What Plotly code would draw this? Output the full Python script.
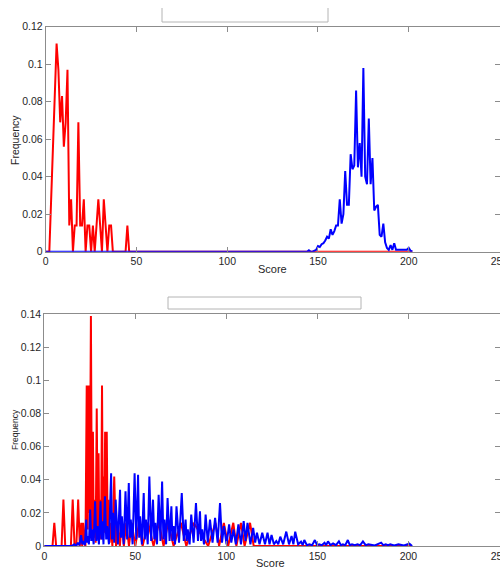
import plotly.graph_objects as go

W, H = 500, 567

# --- top panel: integer scores ---
red_top_score = list(range(0, 47)) + [202]
red_top_freq = [0, 0, 0, 0.028, 0.056, 0.083, 0.111, 0.097, 0.069, 0.083,
                0.056, 0.069, 0.097, 0.014, 0.028, 0, 0.014, 0.014, 0.069, 0.014,
                0.014, 0.028, 0, 0.014, 0.014, 0, 0.014, 0, 0.014, 0.028,
                0.014, 0, 0.028, 0.014, 0, 0.014, 0.014, 0, 0, 0,
                0, 0, 0, 0, 0, 0.014, 0, 0]

blue_top_score = [0] + list(range(144, 203))
blue_top_freq = [0, 0, 0.0008, 0, 0, 0.0005, 0.001, 0.003, 0.0025, 0.004, 0.0045,
                 0.006, 0.008, 0.007, 0.012, 0.009, 0.011, 0.014, 0.014, 0.028, 0.015,
                 0.02, 0.043, 0.025, 0.025, 0.052, 0.044, 0.046, 0.086, 0.045, 0.058,
                 0.04, 0.098, 0.04, 0.036, 0.071, 0.036, 0.05, 0.022, 0.024, 0.025,
                 0.009, 0.008, 0.015, 0.005, 0.002, 0.001, 0.0035, 0.001, 0.0045, 0.001,
                 0.001, 0.001, 0.001, 0.001, 0.001, 0.001, 0.002, 0.0005, 0]

# --- bottom panel: peaks and troughs ---
red_bot_score = [0, 4.5, 5.5, 6.5, 9.5, 10.5, 11.5, 14.6, 15.6, 16.6, 17.6, 18.6, 19.5,
                 20.3, 20.8, 21.3, 22.0, 22.6, 23.3, 23.85, 24.4, 25.0, 25.6, 26.15,
                 26.7, 27.15, 27.6, 28.2, 28.8, 29.3, 29.8, 30.2, 30.7, 31.2, 31.7,
                 32.15, 32.6, 33.0, 33.4, 33.85, 34.3, 34.8, 35.3, 35.9, 36.5, 37.4,
                 38.4, 39.4, 40.5, 41.5, 42.5, 43.7, 45, 46.5, 48, 50, 52, 54, 57, 60,
                 63, 65.5, 68, 71, 75, 78, 82, 90, 94, 96, 98.6, 101, 103.8, 105.5,
                 108, 110, 113, 115, 202]
red_bot_freq = [0, 0, 0.014, 0, 0, 0.028, 0, 0, 0.028, 0, 0, 0.028, 0,
                0.014, 0, 0.014, 0.002, 0, 0.097, 0.01, 0.097, 0.02, 0.139, 0.01,
                0.069, 0.005, 0.028, 0.002, 0.083, 0.01, 0.056, 0.005, 0.028, 0.004, 0.097,
                0.01, 0.042, 0.008, 0.069, 0.01, 0.069, 0.005, 0.028, 0.002, 0.014, 0,
                0.042, 0, 0.014, 0, 0.014, 0, 0.014, 0, 0.014, 0, 0.014, 0, 0.014, 0,
                0.014, 0, 0.014, 0, 0.014, 0, 0.014, 0, 0.014, 0, 0.014, 0, 0.014, 0,
                0.014, 0, 0.014, 0, 0]

blue_bot_score = [0, 15, 16.5, 17.5, 18.4, 19.3, 20.2, 20.9, 21.5, 22.3, 23.0, 23.4,
                  23.8, 24.5, 25.2, 25.8, 26.3, 27.1, 27.9, 28.6, 29.2, 30.0, 30.9, 31.4,
                  31.8, 32.5, 33.3, 34.0, 34.5, 35.5, 36.7, 37.2, 37.7, 38.4, 39.2, 40.4,
                  41.6, 42.1, 42.6, 43.6, 44.6, 45.5, 46.4, 47.0, 47.5, 48.5, 49.6, 50.5,
                  51.5, 52.1, 52.6, 53.6, 54.6, 55.2, 55.8, 56.8, 57.7, 58.7, 59.7, 60.4,
                  61.0, 61.9, 62.8, 63.8, 64.7, 65.4, 66.0, 66.9, 67.7, 68.8, 69.8, 70.4,
                  71.0, 71.8, 72.6, 74.0, 75.5, 76.6, 77.6, 78.2, 78.8, 79.8, 80.7, 82.0,
                  83.3, 84.4, 85.5, 86.1, 86.7, 87.7, 88.6, 89.8, 91.0, 92.4, 93.8, 95.2,
                  96.5, 97.6, 98.7, 100.1, 101.5, 102.7, 103.9, 105.2, 106.6, 108.0, 109.5,
                  110.5, 111.6, 113.2, 114.7, 115.8, 116.8, 118.2, 119.7, 121.2, 122.6,
                  123.7, 124.8, 126.1, 127.4, 128.5, 129.6, 131.2, 132.9, 134.4, 135.8,
                  136.8, 137.8, 139.4, 141.0, 141.9, 142.8, 144.2, 145.6, 147.1, 148.6,
                  149.8, 151.0, 152.4, 153.9, 154.8, 155.8, 157.2, 158.6, 160.2, 161.8,
                  162.9, 164.0, 165.3, 166.7, 167.8, 169.0, 170.5, 172.0, 173.5, 175.0,
                  176.5, 178.0, 181.5, 185.0, 186.2, 187.5, 188.8, 190.0, 192.2, 194.5,
                  197.5, 200.5, 202]
blue_bot_freq = [0, 0, 0.001, 0, 0.002, 0.0005, 0.0066, 0.001, 0.003, 0.0005, 0.016, 0.002,
                 0.006, 0.001, 0.022, 0.003, 0.010, 0.001, 0.027, 0.003, 0.012, 0.001, 0.027, 0.004,
                 0.015, 0.001, 0.030, 0.004, 0.012, 0.001, 0.044, 0.004, 0.020, 0.002, 0.028, 0.001,
                 0.034, 0.005, 0.018, 0.001, 0.033, 0.004, 0.038, 0.005, 0.016, 0.001, 0.044, 0.004,
                 0.043, 0.005, 0.018, 0.001, 0.032, 0.004, 0.016, 0.001, 0.042, 0.003, 0.028, 0.004,
                 0.014, 0.001, 0.031, 0.003, 0.039, 0.004, 0.016, 0.001, 0.029, 0.003, 0.024, 0.003,
                 0.012, 0.001, 0.024, 0.002, 0.032, 0.003, 0.016, 0.003, 0.010, 0.001, 0.019, 0.002,
                 0.026, 0.003, 0.021, 0.003, 0.010, 0.001, 0.019, 0.002, 0.016, 0.002, 0.017, 0.002,
                 0.026, 0.002, 0.012, 0.001, 0.013, 0.002, 0.010, 0.001, 0.013, 0.001, 0.015,
                 0.003, 0.014, 0.001, 0.011, 0.002, 0.008, 0.001, 0.008, 0.001, 0.008,
                 0.001, 0.0066, 0.001, 0.003, 0.001, 0.0056, 0.001, 0.0087, 0.001, 0.006,
                 0.001, 0.0087, 0.001, 0.0026, 0.0005, 0.0036, 0.0005, 0.001, 0.0005, 0.0036,
                 0.0005, 0.001, 0.0005, 0.002, 0.0005, 0.0028, 0.0005, 0.0015, 0.0005, 0.0028,
                 0.0005, 0.001, 0.0005, 0.0036, 0.0005, 0.001, 0.0005, 0.001, 0.0005, 0.0028,
                 0.0005, 0.001, 0.0003, 0.002, 0.0005, 0.001, 0.0005, 0.001, 0.0003, 0.001,
                 0.0003, 0.0014, 0]

x_ticks = [0, 50, 100, 150, 200, 250]


def px(x):
    return x / W


def py(y):
    return 1 - y / H


FONT = 'Liberation Sans, Arial, sans-serif'
GRAY = '#8c8c8c'
TXT = '#262626'

fig = go.Figure()
fig.add_trace(go.Scatter(x=red_top_score, y=red_top_freq, mode='lines',
                         line=dict(color='#ff0000', width=2), xaxis='x', yaxis='y'))
fig.add_trace(go.Scatter(x=blue_top_score, y=blue_top_freq, mode='lines',
                         line=dict(color='#0000ff', width=2), xaxis='x', yaxis='y'))
fig.add_trace(go.Scatter(x=red_bot_score, y=red_bot_freq, mode='lines',
                         line=dict(color='#ff0000', width=2), xaxis='x2', yaxis='y2'))
fig.add_trace(go.Scatter(x=blue_bot_score, y=blue_bot_freq, mode='lines',
                         line=dict(color='#0000ff', width=2), xaxis='x2', yaxis='y2'))

axis_style = dict(showline=True, linecolor=GRAY, linewidth=1, mirror='ticks',
                  ticks='inside', ticklen=5, tickcolor=GRAY, showgrid=False,
                  zeroline=False, ticklabeloverflow='allow',
                  tickfont=dict(family=FONT, size=10.5, color=TXT))

fig.update_layout(
    width=W, height=H,
    margin=dict(l=0, r=0, t=0, b=0, autoexpand=False),
    paper_bgcolor='white', plot_bgcolor='white',
    showlegend=False,
    xaxis=dict(domain=[px(45.7), px(499.5)], range=[0, 250], tickvals=x_ticks,
               anchor='y', **axis_style),
    yaxis=dict(domain=[py(251.7), py(26.7)], range=[0, 0.12], dtick=0.02, tick0=0,
               anchor='x', **axis_style),
    xaxis2=dict(domain=[px(44.3), px(499.5)], range=[0, 250], tickvals=x_ticks,
                anchor='y2', **axis_style),
    yaxis2=dict(domain=[py(546), py(314.3)], range=[0, 0.14], dtick=0.02, tick0=0,
                anchor='x2', **axis_style),
)

# axis labels
labels = [(272, 269, 'Score', 0, 11), (15, 140, 'Frequency', -90, 10.5),
          (270, 563, 'Score', 0, 11), (15, 430, 'Frequency', -90, 8.5)]
for x, y, text, angle, size in labels:
    fig.add_annotation(x=px(x), y=py(y), xref='paper', yref='paper', text=text,
                       textangle=angle, showarrow=False, xanchor='center',
                       yanchor='middle', borderpad=0,
                       font=dict(family=FONT, size=size, color=TXT))

# empty title boxes
box_line = dict(color='#b4b4b4', width=1)
for x0, y0, x1, y1 in [(162, 8, 162, 22), (162, 22, 328, 22), (328, 22, 328, 8)]:
    fig.add_shape(type='line', xref='paper', yref='paper',
                  x0=px(x0), y0=py(y0), x1=px(x1), y1=py(y1), line=box_line)
fig.add_shape(type='rect', xref='paper', yref='paper',
              x0=px(168), y0=py(297), x1=px(361), y1=py(309), line=box_line)

fig.write_html("out.html", config={'displayModeBar': False},
               post_script="document.body.style.margin='0';")
